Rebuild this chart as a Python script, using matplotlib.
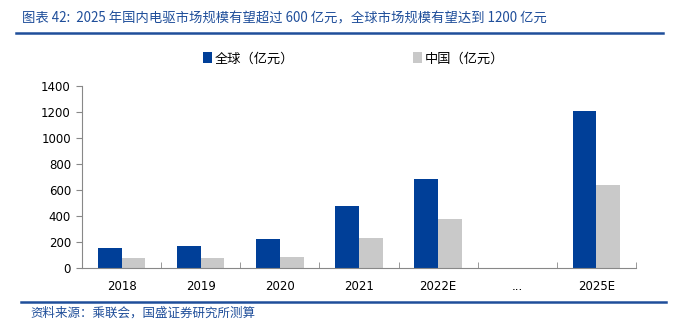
import numpy as np
import matplotlib.pyplot as plt

plt.rcParams['font.family'] = ['Noto Sans CJK SC', 'DejaVu Sans']

# ============================
# DATA
# ============================
categories = ["2018", "2019", "2020", "2021", "2022E", "...", "2025E"]
global_size = [155, 170, 225, 475, 685, np.nan, 1210]
china_size = [75, 80, 85, 230, 375, np.nan, 640]

title = "图表 42:  2025 年国内电驱市场规模有望超过 600 亿元，全球市场规模有望达到 1200 亿元"
source = "资料来源：乘联会，国盛证券研究所测算"

blue = "#003f98"
gray = "#c9c9c9"
title_blue = "#1f4e9a"

# ============================
# FIGURE
# ============================
fig = plt.figure(figsize=(6.87, 3.31), dpi=100)
ax = fig.add_axes([82 / 687, 1 - 268 / 331, (636 - 82) / 687, (268 - 86) / 331])

x = np.arange(len(categories))
w = 0.3
ax.bar(x - w / 2, global_size, width=w, color=blue, label="全球（亿元）")
ax.bar(x + w / 2, china_size, width=w, color=gray, label="中国（亿元）")

ax.set_xlim(-0.5, len(categories) - 0.5)
ax.set_ylim(0, 1400)
ax.set_yticks(range(0, 1401, 200))
ax.set_xticks(x)
ax.set_xticklabels(categories, fontsize=8.5, family="DejaVu Sans")
for lab in ax.get_yticklabels():
    lab.set_family("DejaVu Sans")
ax.tick_params(axis="x", length=0, pad=9)
ax.set_xticks(np.arange(-0.5, len(categories)), minor=True)
ax.tick_params(axis="x", which="minor", direction="in", length=4, color="#888888")
ax.tick_params(axis="y", labelsize=8.5, length=4, color="#888888", pad=4)
for lab in ax.get_yticklabels():
    lab.set_family("DejaVu Sans")

for s in ["top", "right"]:
    ax.spines[s].set_visible(False)
ax.spines["left"].set_color("#888888")
ax.spines["bottom"].set_color("#888888")

leg = fig.legend(loc="center", bbox_to_anchor=(0.515, 1 - 59 / 331), ncol=2,
                 frameon=False, fontsize=9.5, handlelength=0.7, handleheight=0.9,
                 handletextpad=0.2, columnspacing=9)

# title and source
fig.text(22 / 687, 1 - 18 / 331, title, fontsize=9.6, color=title_blue,
         style="italic", va="center", ha="left")
fig.add_artist(plt.Line2D([16 / 687, 663 / 687], [1 - 33 / 331] * 2,
                          color=title_blue, lw=1.8))
fig.add_artist(plt.Line2D([21 / 687, 666 / 687], [1 - 302 / 331] * 2,
                          color=title_blue, lw=1.8))
fig.text(30 / 687, 1 - 313 / 331, source, fontsize=9, color=title_blue,
         style="italic", va="center", ha="left")

fig.savefig("out.png", dpi=100)
